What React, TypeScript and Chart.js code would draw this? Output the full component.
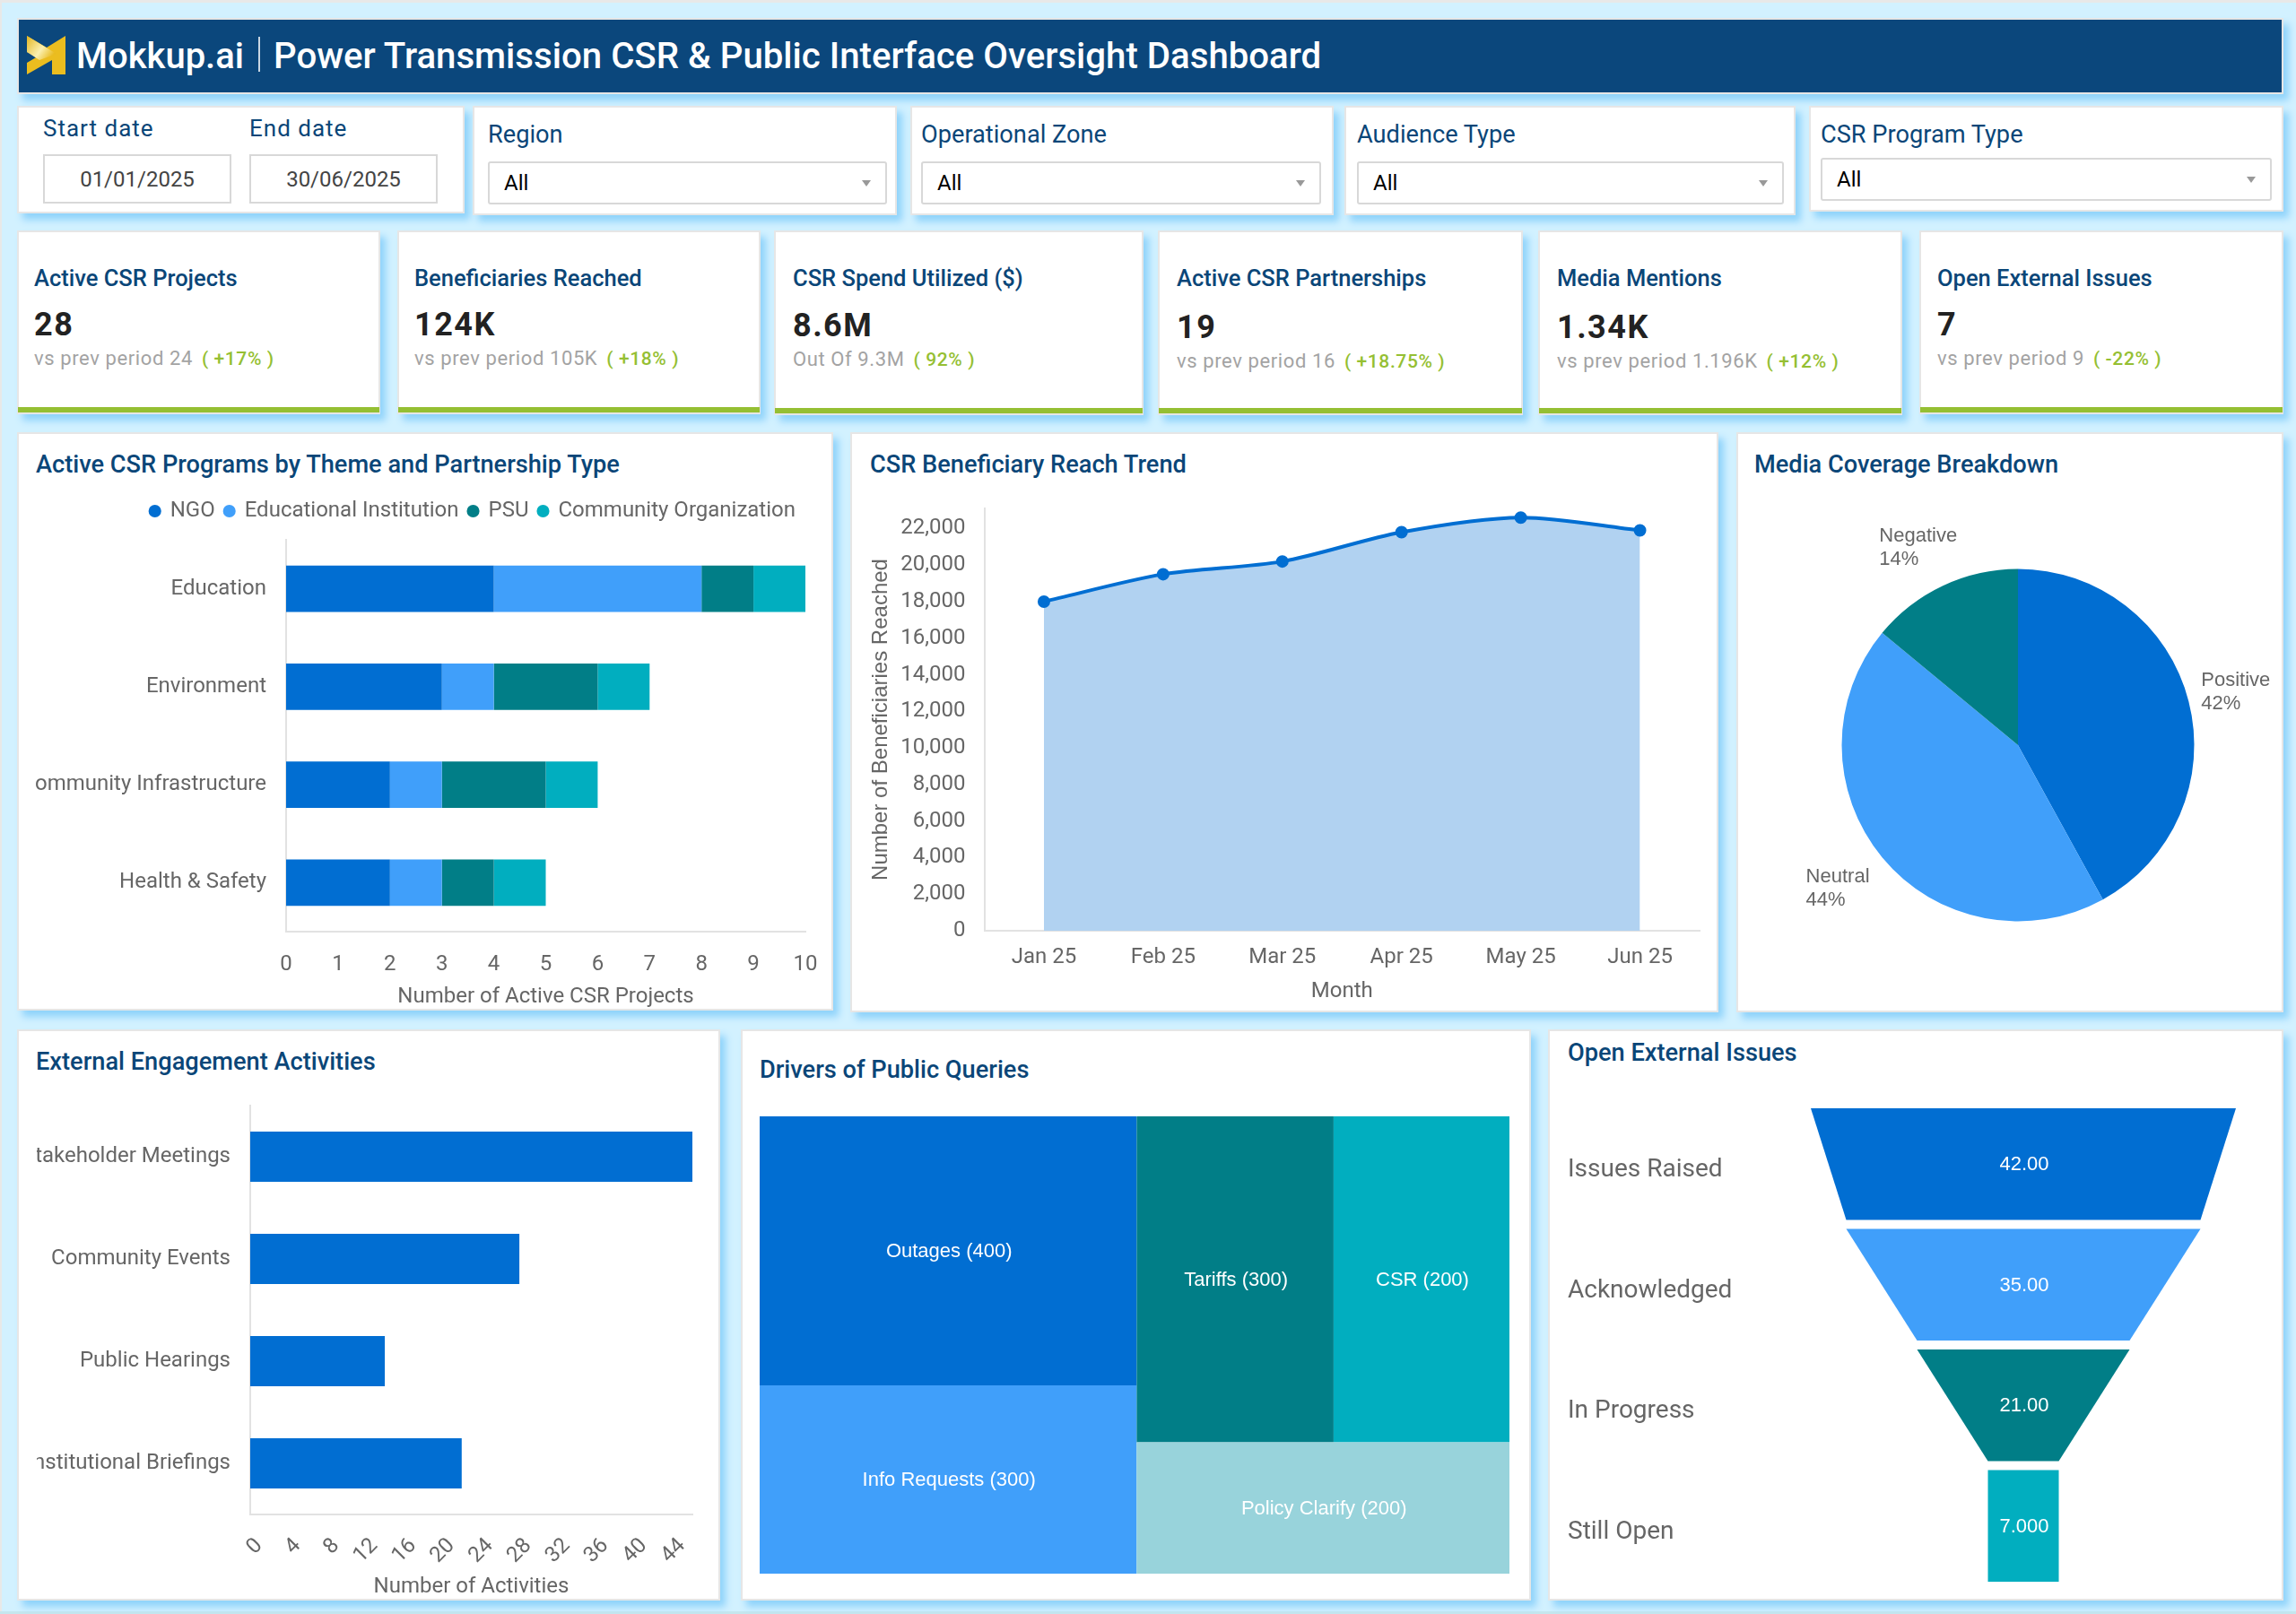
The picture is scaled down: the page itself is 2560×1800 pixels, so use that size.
import { useEffect, useRef } from 'react'
import { Chart, registerables, type ChartConfiguration, type Plugin, type Scale } from 'chart.js'

Chart.register(...registerables)

const BLUE = '#016ed2'
const SKY = '#409ffa'
const TEAL = '#017e87'
const CYAN = '#01aebf'
const MIST = '#98d3db'
const NAVY = '#0a4678'
const GREY = '#666666'
const ROBOTO = 'Roboto, sans-serif'
const ARIAL = '"Liberation Sans", Arial, sans-serif'

// filters: label, panel box, input box
const filterLabels = ['Region', 'Operational Zone', 'Audience Type', 'CSR Program Type']
const filterPanels = [
  [527, 118, 1000, 240],
  [1015, 118, 1487, 240],
  [1499, 118, 2002, 240],
  [2017, 118, 2546, 236],
]
const filterInputs = [
  [544, 180, 989, 228],
  [1027, 180, 1473, 228],
  [1513, 180, 1989, 228],
  [2030, 176, 2533, 224],
]

// kpi cards
const kpiTitles = [
  'Active CSR Projects',
  'Beneficiaries Reached',
  'CSR Spend Utilized ($)',
  'Active CSR Partnerships',
  'Media Mentions',
  'Open External Issues',
]
const kpiValues = ['28', '124K', '8.6M', '19', '1.34K', '7']
const kpiNotes = [
  'vs prev period 24',
  'vs prev period 105K',
  'Out Of 9.3M',
  'vs prev period 16',
  'vs prev period 1.196K',
  'vs prev period 9',
]
const kpiDeltas = ['( +17% )', '( +18% )', '( 92% )', '( +18.75% )', '( +12% )', '( -22% )']
const kpiBoxes = [
  [19, 257, 424, 462],
  [443, 257, 848, 462],
  [863, 257, 1275, 463],
  [1291, 257, 1698, 463],
  [1715, 257, 2121, 463],
  [2140, 257, 2546, 462],
]
const kpiLefts = [38, 462, 884, 1312, 1736, 2160]
const kpiNudges = [0, 0, 1, 3, 3, 0]

// programs by theme
const themes = ['Education', 'Environment', 'Community Infrastructure', 'Health & Safety']
const ngoPrograms = [4, 3, 2, 2]
const eduPrograms = [4, 1, 1, 1]
const psuPrograms = [1, 2, 2, 1]
const communityPrograms = [1, 1, 1, 1]

// reach trend
const months = ['Jan 25', 'Feb 25', 'Mar 25', 'Apr 25', 'May 25', 'Jun 25']
const reached = [18000, 19500, 20200, 21800, 22600, 21900]
const reachTicks = [0, 2000, 4000, 6000, 8000, 10000, 12000, 14000, 16000, 18000, 20000, 22000]

// media coverage
const sentiments = ['Positive', 'Neutral', 'Negative']
const sentimentShares = [42, 44, 14]

// engagement
const activities = ['Stakeholder Meetings', 'Community Events', 'Public Hearings', 'Institutional Briefings']
const activityCounts = [46, 28, 14, 22]
const activityTicks = [0, 4, 8, 12, 16, 20, 24, 28, 32, 36, 40, 44]

// public queries. cell areas in the picture do not follow the printed numbers, so they have their own list
const queryLabels = ['Outages (400)', 'Info Requests (300)', 'Tariffs (300)', 'CSR (200)', 'Policy Clarify (200)']
const queryAreas = [414, 290, 262, 234, 200]

// open issues funnel
const stages = ['Issues Raised', 'Acknowledged', 'In Progress', 'Still Open']
const stageCounts = [42, 35, 21, 7]
const stageLabels = ['42.00', '35.00', '21.00', '7.000']

type Pt = { x: number; y: number }

function rectPoints(x0: number, y0: number, x1: number, y1: number): Pt[] {
  return [
    { x: x0, y: y0 },
    { x: x1, y: y0 },
    { x: x1, y: y1 },
    { x: x0, y: y1 },
  ]
}

function treemapCells(areas: number[]): Pt[][] {
  const [outages, info, tariffs, csr, policy] = areas
  const total = outages + info + tariffs + csr + policy
  const split = (outages + info) / total
  const leftSplit = outages / (outages + info)
  const rightSplit = (tariffs + csr) / (tariffs + csr + policy)
  const midSplit = split + (1 - split) * (tariffs / (tariffs + csr))
  return [
    rectPoints(0, 0, split, leftSplit),
    rectPoints(0, leftSplit, split, 1),
    rectPoints(split, 0, midSplit, rightSplit),
    rectPoints(midSplit, 0, 1, rightSplit),
    rectPoints(split, rightSplit, 1, 1),
  ]
}

const STAGE_HEIGHT = 0.925

function funnelShapes(counts: number[]): Pt[][] {
  return counts.map((count, i) => {
    const next = counts[i + 1] ?? count
    return [
      { x: -count / 2, y: i },
      { x: count / 2, y: i },
      { x: next / 2, y: i + STAGE_HEIGHT },
      { x: -next / 2, y: i + STAGE_HEIGHT },
    ]
  })
}

// fills each dataset's points as one closed shape and centres its label in it
const shapeFillPlugin: Plugin<'scatter'> = {
  id: 'shapeFill',
  afterDatasetsDraw(chart) {
    const { ctx } = chart
    chart.data.datasets.forEach((dataset, i) => {
      const points = chart.getDatasetMeta(i).data
      ctx.save()
      ctx.beginPath()
      points.forEach((p, j) => (j === 0 ? ctx.moveTo(p.x, p.y) : ctx.lineTo(p.x, p.y)))
      ctx.closePath()
      ctx.fillStyle = dataset.backgroundColor as string
      ctx.fill()
      const xs = points.map((p) => p.x)
      const ys = points.map((p) => p.y)
      ctx.fillStyle = '#ffffff'
      ctx.font = `22px ${ARIAL}`
      ctx.textAlign = 'center'
      ctx.textBaseline = 'middle'
      ctx.fillText(
        dataset.label ?? '',
        (Math.min(...xs) + Math.max(...xs)) / 2 + 1,
        (Math.min(...ys) + Math.max(...ys)) / 2 + 1,
      )
      ctx.restore()
    })
  },
}

// slice labels sit outside the pie, two lines each
const sliceOffsets = [
  [14, -23],
  [-85, 22],
  [-71, -55],
]

const sliceLabelPlugin: Plugin<'pie'> = {
  id: 'sliceLabels',
  afterDatasetsDraw(chart) {
    const { ctx } = chart
    const arcs = chart.getDatasetMeta(0).data as any[]
    ctx.save()
    ctx.fillStyle = GREY
    ctx.font = `22px ${ARIAL}`
    ctx.textBaseline = 'middle'
    arcs.forEach((arc, i) => {
      const mid = (arc.startAngle + arc.endAngle) / 2
      const x = arc.x + Math.cos(mid) * arc.outerRadius + sliceOffsets[i][0]
      const y = arc.y + Math.sin(mid) * arc.outerRadius + sliceOffsets[i][1]
      ctx.fillText(String(chart.data.labels?.[i]), x, y)
      ctx.fillText(`${sentimentShares[i]}%`, x, y + 26)
    })
    ctx.restore()
  },
}

// extra room under the legend, before the plot starts
const legendGapPlugin: Plugin<'bar'> = {
  id: 'legendGap',
  beforeLayout(chart) {
    const legend = chart.legend as any
    if (!legend) return
    const fit = Object.getPrototypeOf(legend).fit
    legend.fit = function () {
      fit.call(this)
      this.height += 10
    }
  },
}

const tickFont = { family: ROBOTO, size: 24 }
const axisLine = { display: true, color: '#e2e2e2', width: 2 }

// fixed axis size, and no room kept for labels that stick out past the plot
function fitAxis(scale: Scale, size: number) {
  if (scale.isHorizontal()) scale.height = size
  else scale.width = size
  scale.paddingLeft = 0
  scale.paddingRight = 0
  scale.paddingTop = 0
  scale.paddingBottom = 0
}

const programsConfig: ChartConfiguration<'bar'> = {
  type: 'bar',
  data: {
    labels: themes,
    datasets: [
      { label: 'NGO', data: ngoPrograms, backgroundColor: BLUE },
      { label: 'Educational Institution', data: eduPrograms, backgroundColor: SKY },
      { label: 'PSU', data: psuPrograms, backgroundColor: TEAL },
      { label: 'Community Organization', data: communityPrograms, backgroundColor: CYAN },
    ],
  },
  options: {
    indexAxis: 'y',
    responsive: false,
    animation: false,
    layout: { padding: { right: 22, top: 0 } },
    datasets: { bar: { categoryPercentage: 1, barPercentage: 0.475 } },
    plugins: {
      tooltip: { enabled: false },
      legend: {
        align: 'end',
        labels: {
          usePointStyle: true,
          pointStyle: 'circle',
          boxWidth: 10,
          boxHeight: 10,
          padding: 11,
          color: GREY,
          font: { family: ROBOTO, size: 24 },
        },
      },
    },
    scales: {
      x: {
        stacked: true,
        min: 0,
        max: 10,
        grid: { display: false },
        border: axisLine,
        ticks: { stepSize: 1, color: GREY, font: tickFont, padding: 15, maxRotation: 0 },
        title: {
          display: true,
          text: 'Number of Active CSR Projects',
          color: GREY,
          font: tickFont,
          padding: 0,
        },
        afterFit: (scale) => fitAxis(scale, 87),
      },
      y: {
        stacked: true,
        grid: { display: false },
        border: axisLine,
        ticks: { color: GREY, font: tickFont, padding: 14, autoSkip: false },
        afterFit: (scale) => fitAxis(scale, 279),
      },
    },
  },
  plugins: [legendGapPlugin],
}

const reachConfig: ChartConfiguration<'line'> = {
  type: 'line',
  data: {
    labels: months,
    datasets: [
      {
        data: reached,
        borderColor: BLUE,
        backgroundColor: '#b1d2f1',
        pointBackgroundColor: BLUE,
        pointBorderColor: BLUE,
        pointRadius: 5,
        borderWidth: 4,
        tension: 0.3,
        fill: 'origin',
      },
    ],
  },
  options: {
    responsive: false,
    animation: false,
    layout: { padding: { top: 17, right: 20 } },
    plugins: { legend: { display: false }, tooltip: { enabled: false } },
    scales: {
      x: {
        offset: true,
        grid: { display: false },
        border: axisLine,
        ticks: { color: GREY, font: tickFont, padding: 8, maxRotation: 0 },
        title: { display: true, text: 'Month', color: GREY, font: tickFont, padding: 0 },
        afterFit: (scale) => fitAxis(scale, 82),
      },
      y: {
        min: 0,
        max: 23100,
        grid: { display: false },
        border: axisLine,
        afterBuildTicks: (scale) => {
          scale.ticks = reachTicks.map((value) => ({ value }))
        },
        ticks: {
          color: GREY,
          font: tickFont,
          padding: 13,
          autoSkip: false,
          callback: (value) => Number(value).toLocaleString('en-US'),
        },
        title: {
          display: true,
          text: 'Number of Beneficiaries Reached',
          color: GREY,
          font: { family: ARIAL, size: 24 },
          padding: 0,
        },
        afterFit: (scale) => fitAxis(scale, 129.5),
      },
    },
  },
}

const mediaConfig: ChartConfiguration<'pie'> = {
  type: 'pie',
  data: {
    labels: sentiments,
    datasets: [{ data: sentimentShares, backgroundColor: [BLUE, SKY, TEAL], borderWidth: 0 }],
  },
  options: {
    responsive: false,
    animation: false,
    layout: { padding: { left: 94.5, right: 94.5, top: 73.5, bottom: 73.5 } },
    plugins: { legend: { display: false }, tooltip: { enabled: false } },
  },
  plugins: [sliceLabelPlugin],
}

const engagementConfig: ChartConfiguration<'bar'> = {
  type: 'bar',
  data: {
    labels: activities,
    datasets: [{ data: activityCounts, backgroundColor: BLUE }],
  },
  options: {
    indexAxis: 'y',
    responsive: false,
    animation: false,
    layout: { padding: { right: 22, top: 3 } },
    datasets: { bar: { categoryPercentage: 1, barPercentage: 0.49 } },
    plugins: { legend: { display: false }, tooltip: { enabled: false } },
    scales: {
      x: {
        min: 0,
        max: 46,
        grid: { display: false },
        border: axisLine,
        afterBuildTicks: (scale) => {
          scale.ticks = activityTicks.map((value) => ({ value }))
        },
        ticks: {
          color: GREY,
          font: tickFont,
          padding: 13,
          minRotation: 45,
          maxRotation: 45,
          autoSkip: false,
          labelOffset: 10,
        },
        title: { display: true, text: 'Number of Activities', color: GREY, font: tickFont, padding: 0 },
        afterFit: (scale) => fitAxis(scale, 95),
      },
      y: {
        grid: { display: false },
        border: axisLine,
        ticks: { color: GREY, font: tickFont, padding: 14, autoSkip: false },
        afterFit: (scale) => fitAxis(scale, 238),
      },
    },
  },
}

const queryColors = [BLUE, SKY, TEAL, CYAN, MIST]

const queriesConfig: ChartConfiguration<'scatter'> = {
  type: 'scatter',
  data: {
    datasets: treemapCells(queryAreas).map((cell, i) => ({
      label: queryLabels[i],
      data: cell,
      backgroundColor: queryColors[i],
      pointRadius: 0,
    })),
  },
  options: {
    responsive: false,
    animation: false,
    plugins: { legend: { display: false }, tooltip: { enabled: false } },
    scales: {
      x: { display: false, min: 0, max: 1 },
      y: { display: false, min: 0, max: 1, reverse: true },
    },
  },
  plugins: [shapeFillPlugin],
}

const stageColors = [BLUE, SKY, TEAL, CYAN]
const funnelWidth = Math.max(...stageCounts) / 2

const funnelConfig: ChartConfiguration<'scatter'> = {
  type: 'scatter',
  data: {
    datasets: funnelShapes(stageCounts).map((shape, i) => ({
      label: stageLabels[i],
      data: shape,
      backgroundColor: stageColors[i],
      pointRadius: 0,
    })),
  },
  options: {
    responsive: false,
    animation: false,
    layout: { padding: { top: 6, bottom: 6, right: 47 } },
    plugins: { legend: { display: false }, tooltip: { enabled: false } },
    scales: {
      x: { display: false, min: -funnelWidth, max: funnelWidth },
      y: {
        min: 0,
        max: stages.length - 1 + STAGE_HEIGHT,
        reverse: true,
        grid: { display: false },
        border: { display: false },
        afterBuildTicks: (scale) => {
          scale.ticks = stages.map((_, i) => ({ value: i + 0.515 }))
        },
        ticks: {
          color: GREY,
          font: { family: ROBOTO, size: 28 },
          crossAlign: 'far',
          autoSkip: false,
          callback: (_value, i) => stages[i],
        },
        afterFit: (scale) => fitAxis(scale, 271),
      },
    },
  },
  plugins: [shapeFillPlugin],
}

function ChartCanvas({ box, config }: { box: number[]; config: ChartConfiguration<any> }) {
  const canvasRef = useRef<HTMLCanvasElement>(null)
  const [x0, y0, x1, y1] = box

  useEffect(() => {
    if (!canvasRef.current) return
    const chart = new Chart(canvasRef.current, config)
    return () => chart.destroy()
  }, [config])

  return (
    <canvas
      ref={canvasRef}
      width={x1 - x0}
      height={y1 - y0}
      style={{ position: 'absolute', left: x0, top: y0, width: x1 - x0, height: y1 - y0 }}
    />
  )
}

function at(box: number[]): React.CSSProperties {
  const [x0, y0, x1, y1] = box
  return { position: 'absolute', left: x0, top: y0, width: x1 - x0, height: y1 - y0, boxSizing: 'border-box' }
}

const panelStyle: React.CSSProperties = {
  background: '#ffffff',
  border: '2px solid #e6e6e6',
  boxShadow: '6px 7px 8px #8fd3fb',
}

function Panel({ box }: { box: number[] }) {
  return <div style={{ ...at(box), ...panelStyle }} />
}

function Text({
  x,
  y,
  size,
  color,
  weight = 400,
  spacing = 0,
  children,
}: {
  x: number
  y: number
  size: number
  color: string
  weight?: number
  spacing?: number
  children: React.ReactNode
}) {
  // y is the text's vertical centre
  return (
    <div
      style={{
        position: 'absolute',
        left: x,
        top: y,
        transform: 'translateY(-50%)',
        fontFamily: ROBOTO,
        fontSize: size,
        color,
        fontWeight: weight,
        letterSpacing: spacing,
        lineHeight: 1.2,
        whiteSpace: 'nowrap',
      }}
    >
      {children}
    </div>
  )
}

function Title({ x, y, children }: { x: number; y: number; children: React.ReactNode }) {
  return (
    <Text x={x} y={y} size={27.2} color={NAVY} weight={500}>
      {children}
    </Text>
  )
}

function DateField({ x, label, value }: { x: number; label: string; value: string }) {
  return (
    <>
      <Text x={x} y={144} size={26} color={NAVY} spacing={1}>
        {label}
      </Text>
      <div
        style={{
          ...at([x, 172, x + 210, 227]),
          border: '2px solid #d8d8d8',
          display: 'flex',
          alignItems: 'center',
          justifyContent: 'center',
          fontFamily: ROBOTO,
          fontSize: 24,
          color: '#444444',
        }}
      >
        {value}
      </div>
    </>
  )
}

function Dropdown({ box }: { box: number[] }) {
  return (
    <div
      style={{
        ...at(box),
        border: '2px solid #d8d8d8',
        borderRadius: 3,
        display: 'flex',
        alignItems: 'center',
        justifyContent: 'space-between',
        padding: '0 16px 0 16px',
        fontFamily: ROBOTO,
        fontSize: 24,
        color: '#000000',
      }}
    >
      All
      <span style={{ borderLeft: '5px solid transparent', borderRight: '5px solid transparent', borderTop: '7px solid #999999' }} />
    </div>
  )
}

function Logo() {
  return (
    <svg style={{ position: 'absolute', left: 30, top: 40 }} width={44} height={44} viewBox="0 0 44 44">
      <defs>
        <linearGradient id="logoShine" x1="0" y1="0" x2="1" y2="0.6">
          <stop offset="0" stopColor="#e3b522" />
          <stop offset="0.6" stopColor="#fbf0b0" />
          <stop offset="1" stopColor="#e9bb20" />
        </linearGradient>
      </defs>
      <polygon points="0,0 22,13 43,0 43,43 28,43 28,27 0,43 0,30 12,23 0,18" fill="#ebbd1f" />
      <polygon points="0,0 33,20 14,27 0,18" fill="url(#logoShine)" />
    </svg>
  )
}

export default function App() {
  return (
    <div
      style={{
        position: 'absolute',
        left: 0,
        top: 0,
        width: 2560,
        height: 1800,
        overflow: 'hidden',
        background: '#d2f1ff',
      }}
    >
      <style>{'body{margin:0}'}</style>

      <div style={{ ...at([0, 0, 2560, 3]), background: '#e8e8e8' }} />
      <div style={{ ...at([0, 0, 2, 1800]), background: '#e8e8e8' }} />
      <div style={{ ...at([0, 1797, 2560, 1800]), background: '#c5e6ee' }} />

      <div style={{ ...at([19, 20, 2546, 105]), ...panelStyle, background: '#0b477c' }} />
      <Logo />
      <Text x={85} y={63} size={40} color="#ffffff" weight={500}>
        Mokkup.ai
      </Text>
      <div style={{ ...at([288, 41, 290, 80]), background: '#c9d6e2' }} />
      <Text x={305} y={63} size={40.2} color="#ffffff" weight={500}>
        Power Transmission CSR &amp; Public Interface Oversight Dashboard
      </Text>

      <Panel box={[19, 118, 518, 238]} />
      <DateField x={48} label="Start date" value="01/01/2025" />
      <DateField x={278} label="End date" value="30/06/2025" />

      {filterLabels.map((label, i) => (
        <div key={label}>
          <Panel box={filterPanels[i]} />
          <Text x={filterInputs[i][0]} y={150} size={27.2} color={NAVY}>
            {label}
          </Text>
          <Dropdown box={filterInputs[i]} />
        </div>
      ))}

      {kpiTitles.map((title, i) => {
        const [x0, y0, x1, y1] = kpiBoxes[i]
        const left = kpiLefts[i]
        return (
          <div key={title}>
            <Panel box={kpiBoxes[i]} />
            <div style={{ ...at([x0 + 1, y1 - 8, x1 - 1, y1 - 2]), background: '#95bf33' }} />
            <Text x={left} y={y0 + 53} size={25.5} color={NAVY} weight={500}>
              {title}
            </Text>
            <Text x={left} y={y0 + 106 + kpiNudges[i]} size={36} color="#222222" weight={700} spacing={1.5}>
              {kpiValues[i]}
            </Text>
            <Text x={left} y={y0 + 143 + kpiNudges[i]} size={22} color="#a3a3a3" spacing={0.6}>
              {kpiNotes[i]}
              <span style={{ color: '#95bf33', fontWeight: 500, fontSize: 21, marginLeft: 10 }}>{kpiDeltas[i]}</span>
            </Text>
          </div>
        )
      })}

      <Panel box={[19, 482, 929, 1127]} />
      <Title x={40} y={518}>
        Active CSR Programs by Theme and Partnership Type
      </Title>
      <ChartCanvas box={[40, 547, 920, 1126]} config={programsConfig} />

      <Panel box={[948, 482, 1916, 1129]} />
      <Title x={970} y={518}>
        CSR Beneficiary Reach Trend
      </Title>
      <ChartCanvas box={[968, 550, 1915, 1120]} config={reachConfig} />

      <Panel box={[1936, 482, 2546, 1129]} />
      <Title x={1956} y={518}>
        Media Coverage Breakdown
      </Title>
      <ChartCanvas box={[1959, 561, 2541, 1101]} config={mediaConfig} />

      <Panel box={[19, 1148, 803, 1785]} />
      <Title x={40} y={1184}>
        External Engagement Activities
      </Title>
      <ChartCanvas box={[41, 1230, 794, 1784]} config={engagementConfig} />

      <Panel box={[826, 1148, 1707, 1785]} />
      <Title x={847} y={1193}>
        Drivers of Public Queries
      </Title>
      <ChartCanvas box={[847, 1245, 1683, 1755]} config={queriesConfig} />

      <Panel box={[1726, 1148, 2546, 1785]} />
      <Title x={1748} y={1174}>
        Open External Issues
      </Title>
      <ChartCanvas box={[1748, 1230, 2540, 1770]} config={funnelConfig} />
    </div>
  )
}
